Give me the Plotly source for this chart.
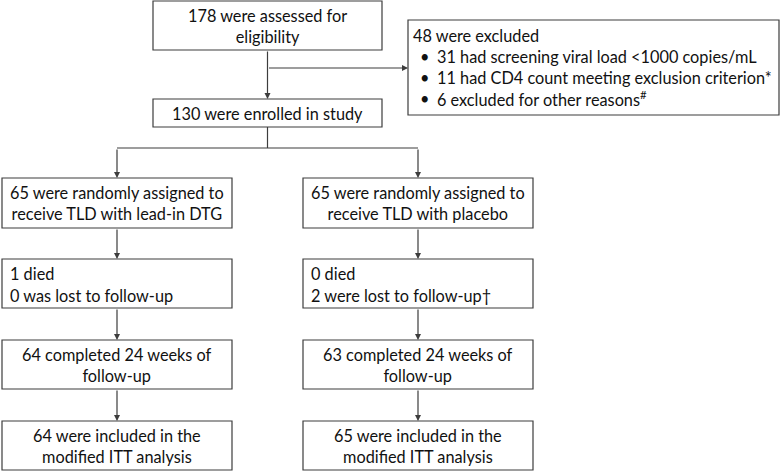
import plotly.graph_objects as go

# ---- content (data) ----
screened = 178
excluded_total = 48
excluded_reasons = ["31 had screening viral load <1000 copies/mL",
                    "11 had CD4 count meeting exclusion criterion*",
                    "6 excluded for other reasons<sup>#</sup>"]
enrolled = 130
arm_assigned = ["65 were randomly assigned to<br>receive TLD with lead-in DTG",
                "65 were randomly assigned to<br>receive TLD with placebo"]
arm_loss = [["1 died", "0 was lost to follow-up"],
            ["0 died", "2 were lost to follow-up†"]]
arm_completed = ["64 completed 24 weeks of<br>follow-up",
                 "63 completed 24 weeks of<br>follow-up"]
arm_itt = ["64 were included in the<br>modified ITT analysis",
           "65 were included in the<br>modified ITT analysis"]

# ---- geometry ----
W, H = 781, 472
LINE = "#3d3d3d"
FONT = dict(family="Lato, Open Sans, sans-serif", size=16.3, color="#111111")
top_box = (153, 382, 1, 50)
excl_box = (408, 779, 20, 115)
enr_box = (153, 382, 99, 127)
cols = [(2, 232), (303, 533)]
rows = [(178, 228), (259, 308), (340, 389), (421, 470)]

fig = go.Figure()
shapes = []
anns = []

def box(b):
    x0, x1, y0, y1 = b
    shapes.append(dict(type="rect", x0=x0, x1=x1, y0=y0, y1=y1, xref="x", yref="y",
                       line=dict(color=LINE, width=1.2), fillcolor="white"))

def ctext(b, t):
    x0, x1, y0, y1 = b
    anns.append(dict(x=(x0 + x1) / 2, y=(y0 + y1) / 2, text=t, showarrow=False,
                     xref="x", yref="y", font=FONT, align="center",
                     xanchor="center", yanchor="middle"))

def ltext(x, y, t):
    anns.append(dict(x=x, y=y, text=t, showarrow=False, xref="x", yref="y",
                     font=FONT, align="left", xanchor="left", yanchor="middle"))

def line(x0, y0, x1, y1):
    shapes.append(dict(type="line", x0=x0, y0=y0, x1=x1, y1=y1, xref="x", yref="y",
                       line=dict(color=LINE, width=1.2)))

def arrow(x0, y0, x1, y1):
    anns.append(dict(x=x1, y=y1, ax=x0, ay=y0, xref="x", yref="y", axref="x", ayref="y",
                     text="", showarrow=True, arrowhead=2, arrowsize=1.0,
                     arrowwidth=1.2, arrowcolor=LINE, standoff=0))

# top part
box(top_box)
ctext(top_box, f"{screened} were assessed for<br>eligibility")
box(excl_box)
ltext(411, 35, f"{excluded_total} were excluded")
for i, r in enumerate(excluded_reasons):
    yy = 56 + i * 21
    ltext(418, yy, "•")
    ltext(435, yy, r)
box(enr_box)
ctext(enr_box, f"{enrolled} were enrolled in study")

cx = (top_box[0] + top_box[1]) / 2
arrow(cx, top_box[3], cx, enr_box[2])
arrow(cx, 68, excl_box[0], 68)

# split
split_y = 148
line(cx, enr_box[3], cx, split_y)
ccs = [(c[0] + c[1]) / 2 for c in cols]
line(ccs[0], split_y, ccs[1], split_y)
for c in ccs:
    arrow(c, split_y, c, rows[0][0])

for k, (x0, x1) in enumerate(cols):
    c = ccs[k]
    b1 = (x0, x1) + rows[0]
    box(b1); ctext(b1, arm_assigned[k])
    b2 = (x0, x1) + rows[1]
    box(b2)
    ltext(x0 + 6, rows[1][0] + 14, arm_loss[k][0])
    ltext(x0 + 6, rows[1][0] + 36, arm_loss[k][1])
    b3 = (x0, x1) + rows[2]
    box(b3); ctext(b3, arm_completed[k])
    b4 = (x0, x1) + rows[3]
    box(b4); ctext(b4, arm_itt[k])
    for j in range(3):
        arrow(c, rows[j][1], c, rows[j + 1][0])

fig.update_layout(width=W, height=H, margin=dict(l=0, r=0, t=0, b=0),
                  paper_bgcolor="white", plot_bgcolor="white",
                  shapes=shapes, annotations=anns, showlegend=False,
                  xaxis=dict(range=[0, W], visible=False, fixedrange=True),
                  yaxis=dict(range=[H, 0], visible=False, fixedrange=True))
fig.write_html("out.html", config={"displayModeBar": False},
               post_script="document.body.style.margin='0';document.body.style.padding='0';")
